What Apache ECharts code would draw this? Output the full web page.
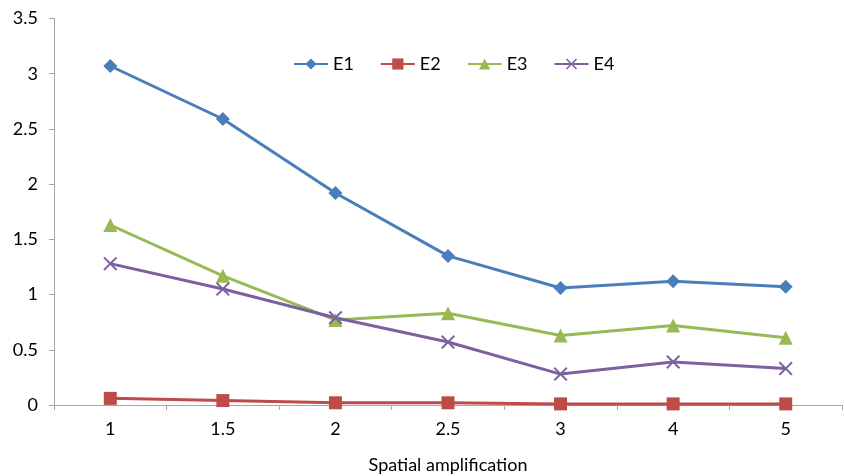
<!DOCTYPE html>
<html>
<head>
<meta charset="utf-8">
<script src="https://cdn.jsdelivr.net/npm/echarts@6/dist/echarts.min.js"></script>
<style>html,body{margin:0;padding:0;background:#fff}#c{width:844px;height:476px}</style>
</head>
<body>
<div id="c"></div>
<script>
var categories = ['1', '1.5', '2', '2.5', '3', '4', '5'];
var e1 = [3.07, 2.59, 1.92, 1.35, 1.06, 1.12, 1.07];
var e2 = [0.06, 0.04, 0.02, 0.02, 0.01, 0.01, 0.01];
var e3 = [1.63, 1.17, 0.77, 0.83, 0.63, 0.72, 0.61];
var e4 = [1.28, 1.05, 0.79, 0.57, 0.28, 0.39, 0.33];
var seriesNames = ['E1', 'E2', 'E3', 'E4'];
var xTitle = 'Spatial amplification';

var FONT = 'Lato';
var FS = 18;
var crossPath = 'path://M0,1L1,0L5,4L9,0L10,1L6,5L10,9L9,10L5,6L1,10L0,9L4,5Z';
function mk(name, data, color, symbol, size) {
  return {
    name: name, type: 'line', data: data,
    symbol: symbol, symbolSize: size,
    itemStyle: { color: color },
    lineStyle: { color: color, width: 3 },
    emphasis: { disabled: true },
    animation: false
  };
}
var chart = echarts.init(document.getElementById('c'));
chart.setOption({
  backgroundColor: '#ffffff',
  textStyle: { fontFamily: FONT },
  grid: { left: 54, right: 2, top: 18.5, bottom: 71, containLabel: false, outerBoundsMode: 'none' },
  legend: {
    top: 50, left: 288,
    itemWidth: 34, itemHeight: 14, itemGap: 26,
    textStyle: { fontFamily: FONT, fontSize: FS, color: '#000' },
    data: seriesNames
  },
  xAxis: {
    type: 'category', data: categories, boundaryGap: true,
    name: xTitle, nameLocation: 'middle', nameGap: 51,
    nameTextStyle: { fontFamily: FONT, fontSize: FS, color: '#000' },
    axisLine: { lineStyle: { color: '#a6a6a6', width: 1 } },
    axisTick: { show: true, length: 5, lineStyle: { color: '#a6a6a6' } },
    axisLabel: { fontFamily: FONT, fontSize: FS, color: '#000', margin: 15 }
  },
  yAxis: {
    type: 'value', min: 0, max: 3.5, interval: 0.5,
    axisLine: { show: true, lineStyle: { color: '#a6a6a6', width: 1 } },
    axisTick: { show: true, length: 5, lineStyle: { color: '#a6a6a6' } },
    splitLine: { show: false },
    axisLabel: { fontFamily: FONT, fontSize: FS, color: '#000', margin: 16 }
  },
  series: [
    mk(seriesNames[0], e1, '#4A7EBB', 'diamond', 14),
    mk(seriesNames[1], e2, '#BE4B48', 'rect', 13),
    mk(seriesNames[2], e3, '#98B954', 'triangle', 14),
    mk(seriesNames[3], e4, '#7D60A0', crossPath, 14)
  ]
});
</script>
</body>
</html>
